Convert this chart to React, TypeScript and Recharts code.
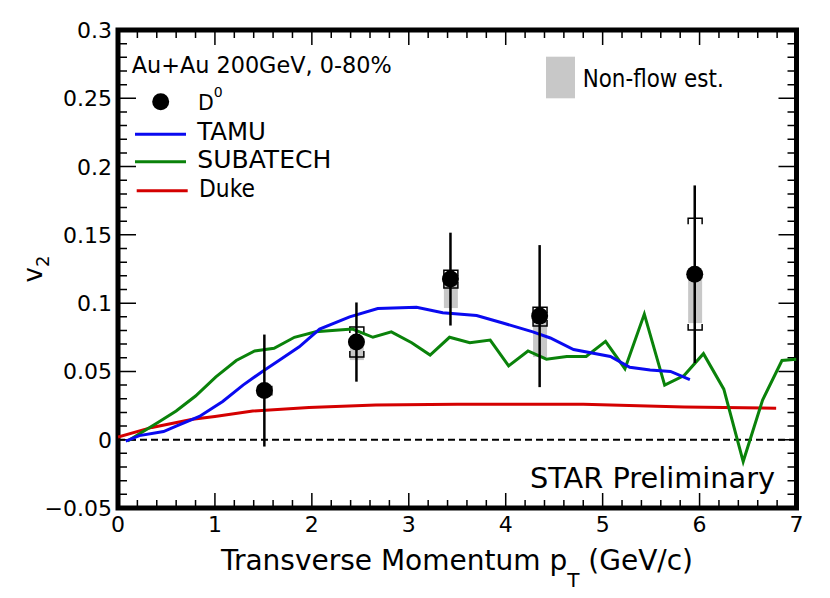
import { Bar, ComposedChart, ErrorBar, Line, ReferenceArea, ReferenceLine, Scatter, XAxis, YAxis } from 'recharts';

// D0 v2 measurement (STAR preliminary)
const d0Pt = [1.51, 2.46, 3.43, 4.35, 5.95];
const d0V2 = [0.036, 0.0715, 0.1176, 0.0905, 0.1212];
const d0Stat = [0.041, 0.029, 0.034, 0.052, 0.065];
const d0SysLow = [0.033, 0.0605, 0.111, 0.0832, 0.0803];
const d0SysHigh = [0.039, 0.0825, 0.124, 0.097, 0.1622];
const d0NonFlowLow = [0.034, 0.0583, 0.0964, 0.0605, 0.0854];

// model curves [pT, v2]
const tamu = [
  [0.08, -0.001], [0.22, 0.003], [0.47, 0.006], [0.6, 0.01], [0.84, 0.017], [1.08, 0.028],
  [1.29, 0.04], [1.49, 0.05], [1.66, 0.058], [1.87, 0.068], [2.08, 0.081], [2.39, 0.09],
  [2.68, 0.096], [3.08, 0.097], [3.35, 0.093], [3.7, 0.091], [3.97, 0.0855], [4.28, 0.079],
  [4.46, 0.0745], [4.7, 0.066], [5.08, 0.061], [5.28, 0.053], [5.49, 0.051], [5.7, 0.05],
  [5.9, 0.044],
];
const subatech = [
  [0.1, -0.001], [0.42, 0.013], [0.6, 0.021], [0.8, 0.032], [1.01, 0.046], [1.22, 0.058],
  [1.41, 0.065], [1.61, 0.067], [1.82, 0.075], [2.04, 0.079], [2.21, 0.08], [2.42, 0.081],
  [2.63, 0.075], [2.82, 0.079], [3.03, 0.071], [3.22, 0.062], [3.42, 0.075], [3.63, 0.071],
  [3.84, 0.073], [4.03, 0.054], [4.23, 0.065], [4.42, 0.059], [4.63, 0.061], [4.83, 0.061],
  [5.03, 0.072], [5.23, 0.052], [5.43, 0.092], [5.64, 0.04], [5.84, 0.047], [6.04, 0.063],
  [6.25, 0.037], [6.45, -0.016], [6.65, 0.029], [6.85, 0.058], [7.0, 0.059],
];
const duke = [
  [0.0, 0.002], [0.35, 0.009], [0.77, 0.015], [1.0, 0.017], [1.39, 0.021], [1.97, 0.0235],
  [2.66, 0.0255], [3.5, 0.026], [4.8, 0.026], [5.84, 0.024], [6.79, 0.023],
];

const xMajorTicks = [0, 1, 2, 3, 4, 5, 6, 7];
const xTickLabels = ['0', '1', '2', '3', '4', '5', '6', '7'];
const yMajorTicks = [-0.05, 0, 0.05, 0.1, 0.15, 0.2, 0.25, 0.3];
const yTickLabels = ['\u22120.05', '0', '0.05', '0.1', '0.15', '0.2', '0.25', '0.3'];

const X_MIN = 0;
const X_MAX = 7;
const Y_MIN = -0.05;
const Y_MAX = 0.3;
const xTicks = Array.from({ length: 36 }, (_, i) => +(i * 0.2).toFixed(1));
const yTicks = Array.from({ length: 36 }, (_, i) => +(Y_MIN + i * 0.01).toFixed(2));

// layout: shared by the chart margins and the frame tick marks
const W = 830;
const H = 598;
const PLOT = { left: 118, top: 30, right: 33.5, bottom: 90 };

const COLORS = { tamu: '#0a0af0', subatech: '#0a820a', duke: '#d40000', nonflow: '#c8c8c8' };
const FONT = 'DejaVu Sans';

const d0Rows = d0Pt.map((pt, i) => ({
  pt,
  v2: d0V2[i],
  stat: d0Stat[i],
  sys: [d0SysLow[i], d0SysHigh[i]],
  nonflow: [d0NonFlowLow[i], d0V2[i]],
}));
const toRows = (pts: number[][]) => pts.map(([pt, v2]) => ({ pt, v2 }));

const xLabelOf = (v: number) => xTickLabels[xMajorTicks.findIndex((t) => Math.abs(t - v) < 1e-6)];
const yLabelOf = (v: number) => yTickLabels[yMajorTicks.findIndex((t) => Math.abs(t - v) < 1e-6)];

const BottomTick = ({ x, y, payload }: any) => {
  const label = xLabelOf(payload.value);
  if (!label) return <g />;
  return (
    <text x={x} y={y + 23.5} textAnchor="middle" fontSize={22} fill="#000" fontFamily={FONT}>
      {label}
    </text>
  );
};

const LeftTick = ({ x, y, payload }: any) => {
  const label = yLabelOf(payload.value);
  if (!label) return <g />;
  return (
    <text x={x - 6} y={y + 8} textAnchor="end" fontSize={22} fill="#000" fontFamily={FONT}>
      {label}
    </text>
  );
};

const SysBracket = ({ x, y, width, height }: any) => {
  const leg = Math.min(6, height / 2);
  const b = y + height;
  return (
    <path
      d={`M${x},${y + leg}L${x},${y}L${x + width},${y}L${x + width},${y + leg}M${x},${b - leg}L${x},${b}L${x + width},${b}L${x + width},${b - leg}`}
      fill="none"
      stroke="#000"
      strokeWidth={1.5}
    />
  );
};

// inward tick marks on all four sides of the frame (ROOT style)
function FrameTicks() {
  const x0 = PLOT.left;
  const x1 = W - PLOT.right;
  const y0 = PLOT.top;
  const y1 = H - PLOT.bottom;
  const px = (v: number) => x0 + ((v - X_MIN) / (X_MAX - X_MIN)) * (x1 - x0);
  const py = (v: number) => y1 - ((v - Y_MIN) / (Y_MAX - Y_MIN)) * (y1 - y0);
  let d = '';
  xTicks.forEach((t) => {
    const len = xLabelOf(t) ? 15 : 8;
    const x = px(t);
    d += `M${x},${y1}v${-len}M${x},${y0}v${len}`;
  });
  yTicks.forEach((t) => {
    const len = yLabelOf(t) ? 18 : 9;
    const y = py(t);
    d += `M${x0},${y}h${len}M${x1},${y}h${-len}`;
  });
  return <path d={d} stroke="#000" strokeWidth={1.5} fill="none" />;
}

const legendLines = [
  { name: 'TAMU', color: COLORS.tamu, y: 134.3, x1: 135, base: 140, width: 68.7 },
  { name: 'SUBATECH', color: COLORS.subatech, y: 161.7, x1: 135, base: 168.3, width: 134 },
  { name: 'Duke', color: COLORS.duke, y: 190.7, x1: 136.7, base: 196.7, width: 56 },
];

// texts, legend and frame ticks, drawn under the (transparent) chart
function Overlay() {
  return (
    <svg width={W} height={H} style={{ position: 'absolute', left: 0, top: 0 }} fontFamily={FONT}>
      <FrameTicks />
      <text x={131.7} y={73.3} fontSize={23} textLength={260} lengthAdjust="spacingAndGlyphs">
        Au+Au 200GeV, 0-80%
      </text>
      <circle cx={160.7} cy={101.7} r={8.5} fill="#000" />
      <text x={198} y={109.5} fontSize={20.5}>
        D<tspan fontSize={14} dy={-12.6}>0</tspan>
      </text>
      {legendLines.map((l) => (
        <g key={l.name}>
          <line x1={l.x1} x2={l.x1 + 51} y1={l.y} y2={l.y} stroke={l.color} strokeWidth={3} />
          <text x={l.x1 + 62.3} y={l.base} fontSize={24} textLength={l.width} lengthAdjust="spacingAndGlyphs">
            {l.name}
          </text>
        </g>
      ))}
      <rect x={546} y={56.7} width={29} height={41.6} fill={COLORS.nonflow} />
      <text x={582.7} y={86.7} fontSize={24} textLength={141} lengthAdjust="spacingAndGlyphs">
        Non-flow est.
      </text>
      <text x={530} y={488.3} fontSize={28} textLength={245} lengthAdjust="spacingAndGlyphs">
        STAR Preliminary
      </text>
      <text x={457} y={570} textAnchor="middle" fontSize={28}>
        Transverse Momentum p
        <tspan fontSize={20} dy={16.5}>T</tspan>
        <tspan fontSize={28} dy={-16.5}> (GeV/c)</tspan>
      </text>
      <text transform="translate(42, 269) rotate(-90)" textAnchor="middle" fontSize={26}>
        v<tspan fontSize={18} dy={7}>2</tspan>
      </text>
    </svg>
  );
}

export default function App() {
  return (
    <div style={{ position: 'absolute', left: 0, top: 0, width: W, height: H, background: '#fff' }}>
      <Overlay />
      <div style={{ position: 'absolute', left: 0, top: 0 }}>
        <ComposedChart
          width={W}
          height={H}
          data={d0Rows}
          margin={{ top: PLOT.top, right: PLOT.right, left: 0, bottom: 0 }}
          style={{ fontFamily: FONT }}
        >
          <XAxis
            xAxisId="b"
            dataKey="pt"
            type="number"
            domain={[X_MIN, X_MAX]}
            allowDataOverflow
            ticks={xTicks}
            interval={0}
            axisLine={false}
            tickLine={false}
            tickSize={0}
            tickMargin={0}
            tick={<BottomTick />}
            height={PLOT.bottom}
          />
          <XAxis xAxisId="nf" dataKey="pt" type="number" domain={[X_MIN, X_MAX]} allowDataOverflow hide />
          <XAxis xAxisId="sys" dataKey="pt" type="number" domain={[X_MIN, X_MAX]} allowDataOverflow hide />
          <YAxis
            yAxisId="l"
            type="number"
            domain={[Y_MIN, Y_MAX]}
            allowDataOverflow
            ticks={yTicks}
            interval={0}
            axisLine={false}
            tickLine={false}
            tickSize={0}
            tickMargin={0}
            tick={<LeftTick />}
            width={PLOT.left}
          />

          <ReferenceLine xAxisId="b" yAxisId="l" y={0} stroke="#000" strokeWidth={2} strokeDasharray="7 4" />

          <Bar xAxisId="nf" yAxisId="l" dataKey="nonflow" barSize={14} fill={COLORS.nonflow} isAnimationActive={false} />

          <Line xAxisId="b" yAxisId="l" data={toRows(duke)} dataKey="v2" type="linear" stroke={COLORS.duke} strokeWidth={3} dot={false} isAnimationActive={false} />
          <Line xAxisId="b" yAxisId="l" data={toRows(subatech)} dataKey="v2" type="linear" stroke={COLORS.subatech} strokeWidth={3} dot={false} isAnimationActive={false} />
          <Line xAxisId="b" yAxisId="l" data={toRows(tamu)} dataKey="v2" type="linear" stroke={COLORS.tamu} strokeWidth={3} dot={false} isAnimationActive={false} />

          <Bar xAxisId="sys" yAxisId="l" dataKey="sys" barSize={14} shape={<SysBracket />} isAnimationActive={false} />

          <Scatter
            xAxisId="b"
            yAxisId="l"
            data={d0Rows}
            dataKey="v2"
            isAnimationActive={false}
            shape={(p: any) => <circle cx={p.cx} cy={p.cy} r={8.5} fill="#000" />}
          >
            <ErrorBar dataKey="stat" direction="y" width={0} stroke="#000" strokeWidth={2.5} />
          </Scatter>

          <ReferenceArea xAxisId="b" yAxisId="l" x1={X_MIN} x2={X_MAX} y1={Y_MIN} y2={Y_MAX} fill="none" stroke="#000" strokeWidth={5} />
        </ComposedChart>
      </div>
    </div>
  );
}
